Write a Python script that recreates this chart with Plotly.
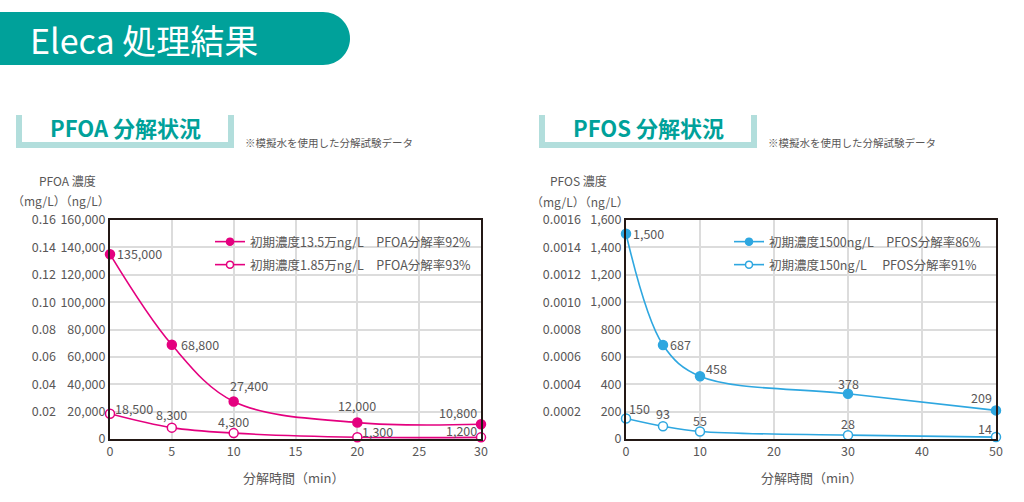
import plotly.graph_objects as go

W, H = 1024, 502

# PFOA data (ng/L)
pfoa_time = [0, 5, 10, 20, 30]
pfoa_high = [135000, 68800, 27400, 12000, 10800]
pfoa_low = [18500, 8300, 4300, 1300, 1200]

# PFOS data (ng/L) - the 30 min point is drawn lower than its printed label
pfos_time = [0, 5, 10, 30, 50]
pfos_high = [1500, 687, 458, 330, 209]
pfos_high_labels = ['1,500', '687', '458', '378', '209']
pfos_low = [150, 93, 55, 28, 14]

legend_names = {
    'pfoa_high': '初期濃度13.5万ng/L　PFOA分解率92%',
    'pfoa_low': '初期濃度1.85万ng/L　PFOA分解率93%',
    'pfos_high': '初期濃度1500ng/L　PFOS分解率86%',
    'pfos_low': '初期濃度150ng/L　 PFOS分解率91%',
}

# label placement: (anchor, x shift px, y shift px)
pfoa_high_lbl = [('left', 5, 1), ('left', 7, 0), ('center', 15, 16), ('center', 0, 17), ('right', -2, 12)]
pfoa_low_lbl = [('left', 3, 5), ('center', 0, 13), ('center', 0, 12), ('left', 3, 6), ('right', -2, 7)]
pfos_high_lbl = [('left', 5, 0), ('left', 5, 0), ('left', 4, 8), ('center', 0, 10), ('right', -2, 13)]
pfos_low_lbl = [('left', 1, 10), ('center', 0, 13), ('center', 0, 11), ('center', 0, 12), ('right', -2, 9)]

PINK = '#e4007f'
BLUE = '#2ea7e0'
TEAL = '#00a19a'
LIGHT_TEAL = '#b2dedc'
GREY = '#595757'
FONT = 'Noto Sans CJK JP'


def px(x):
    return x / W


def py(y):
    return 1 - y / H


fig = go.Figure()


def add_series(x, y, labels, place, name, color, filled, xa, ya, legend):
    fig.add_trace(go.Scatter(
        x=x, y=y, mode='lines+markers',
        line=dict(color=color, width=1.6, shape='spline', smoothing=1.0),
        marker=dict(size=9,
                    color=color if filled else 'white',
                    line=dict(color=color, width=1.5)),
        showlegend=False, xaxis=xa, yaxis=ya,
        cliponaxis=False, hoverinfo='x+y'))
    # legend entry with a smaller marker
    fig.add_trace(go.Scatter(
        x=[None], y=[None], mode='lines+markers', name=name,
        line=dict(color=color, width=1.6),
        marker=dict(size=7, color=color if filled else 'white',
                    line=dict(color=color, width=1.5)),
        xaxis=xa, yaxis=ya, legend=legend))
    for xv, yv, t, (anc, dx, dy) in zip(x, y, labels, place):
        fig.add_annotation(x=xv, y=yv, xref=xa, yref=ya, text=t, showarrow=False,
                           xanchor=anc, yanchor='middle', xshift=dx, yshift=dy,
                           font=dict(size=12.5, color=GREY, family=FONT))


def fmt(vals):
    return [f'{v:,}' for v in vals]


add_series(pfoa_time, pfoa_high, fmt(pfoa_high), pfoa_high_lbl, legend_names['pfoa_high'], PINK, True, 'x', 'y', 'legend')
add_series(pfoa_time, pfoa_low, fmt(pfoa_low), pfoa_low_lbl, legend_names['pfoa_low'], PINK, False, 'x', 'y', 'legend2')
add_series(pfos_time, pfos_high, pfos_high_labels, pfos_high_lbl, legend_names['pfos_high'], BLUE, True, 'x2', 'y2', 'legend3')
add_series(pfos_time, pfos_low, fmt(pfos_low), pfos_low_lbl, legend_names['pfos_low'], BLUE, False, 'x2', 'y2', 'legend4')

# invisible traces so the mg/L axes get drawn
fig.add_trace(go.Scatter(x=pfoa_time, y=[v / 1e6 for v in pfoa_high], xaxis='x', yaxis='y3',
                         mode='markers', marker=dict(opacity=0), showlegend=False, hoverinfo='skip'))
fig.add_trace(go.Scatter(x=pfos_time, y=[v / 1e6 for v in pfos_high], xaxis='x2', yaxis='y4',
                         mode='markers', marker=dict(opacity=0), showlegend=False, hoverinfo='skip'))

ydom = [py(439), py(220)]
tickf = dict(size=12.5, color=GREY, family=FONT)
frame = dict(showline=True, linecolor='#231815', linewidth=2, mirror=True,
             showgrid=True, gridcolor='#dcdcdc', gridwidth=1.5, zeroline=False,
             tickfont=tickf, ticks='', automargin=False)

fig.update_layout(
    width=W, height=H, margin=dict(l=0, r=0, t=0, b=0, autoexpand=False),
    paper_bgcolor='white', plot_bgcolor='white',
    font=dict(family=FONT, color=GREY),
    xaxis=dict(domain=[px(110), px(481)], range=[0, 30], dtick=5, anchor='y', **frame),
    yaxis=dict(domain=ydom, range=[0, 160000], dtick=20000, tickformat=',', anchor='x', **frame),
    xaxis2=dict(domain=[px(626), px(996)], range=[0, 50], dtick=10, anchor='y2', **frame),
    yaxis2=dict(domain=ydom, range=[0, 1600], dtick=200, tickformat=',', anchor='x2', **frame),
    yaxis3=dict(overlaying='y', anchor='free', position=px(56), range=[0, 0.16],
                tickvals=[0.02, 0.04, 0.06, 0.08, 0.10, 0.12, 0.14, 0.16], tickformat='.2f',
                showgrid=False, zeroline=False, showline=False, ticks='', tickfont=tickf,
                automargin=False),
    yaxis4=dict(overlaying='y2', anchor='free', position=px(581), range=[0, 0.0016],
                tickvals=[0.0002, 0.0004, 0.0006, 0.0008, 0.0010, 0.0012, 0.0014, 0.0016],
                tickformat='.4f', showgrid=False, zeroline=False, showline=False, ticks='',
                tickfont=tickf, automargin=False),
    showlegend=True,
)

leg = dict(xanchor='left', yanchor='middle', bgcolor='rgba(0,0,0,0)',
           font=dict(size=12.5, color=GREY, family=FONT), itemwidth=30)
fig.update_layout(
    legend=dict(x=px(210), y=py(242), **leg),
    legend2=dict(x=px(210), y=py(265), **leg),
    legend3=dict(x=px(729), y=py(242), **leg),
    legend4=dict(x=px(729), y=py(265), **leg),
)

# header band
fig.add_shape(type='path', xref='paper', yref='paper', line=dict(width=0), fillcolor=TEAL,
              path=(f'M {px(0)},{py(12)} L {px(323)},{py(12)} '
                    f'C {px(338)},{py(12)} {px(350)},{py(24)} {px(350)},{py(38.5)} '
                    f'C {px(350)},{py(53)} {px(338)},{py(65)} {px(323)},{py(65)} '
                    f'L {px(0)},{py(65)} Z'))

# section boxes
for x0, x1 in [(16, 234), (539, 757)]:
    for a, b, c, d in [(x0, 115, x0 + 6, 148), (x1 - 6, 115, x1, 148), (x0, 142, x1, 148)]:
        fig.add_shape(type='rect', xref='paper', yref='paper', line=dict(width=0),
                      fillcolor=LIGHT_TEAL, x0=px(a), x1=px(c), y0=py(d), y1=py(b))

notes = [
    (28, 39, 'Eleca 処理結果', 34, 'white', 'left', False),
    (125, 127, 'PFOA 分解状況', 22, TEAL, 'center', True),
    (648, 127, 'PFOS 分解状況', 22, TEAL, 'center', True),
    (243, 143, '※模擬水を使用した分解試験データ', 10.5, GREY, 'left', False),
    (766, 143, '※模擬水を使用した分解試験データ', 10.5, GREY, 'left', False),
    (67, 180, 'PFOA 濃度', 12, GREY, 'center', False),
    (61, 200, '（mg/L）（ng/L）', 12, GREY, 'center', False),
    (578, 180, 'PFOS 濃度', 12, GREY, 'center', False),
    (580, 201, '（mg/L）（ng/L）', 12, GREY, 'center', False),
    (294, 477, '分解時間（min）', 13, GREY, 'center', False),
    (812, 477, '分解時間（min）', 13, GREY, 'center', False),
]
for x, y, t, s, c, al, bold in notes:
    fig.add_annotation(x=px(x), y=py(y), xref='paper', yref='paper', showarrow=False,
                       text=f'<b>{t}</b>' if bold else t, xanchor=al, yanchor='middle',
                       font=dict(size=s, color=c, family=FONT))

fig.write_html("out.html", config={'displayModeBar': False},
               post_script="document.body.style.margin='0';document.body.style.overflow='hidden';")
